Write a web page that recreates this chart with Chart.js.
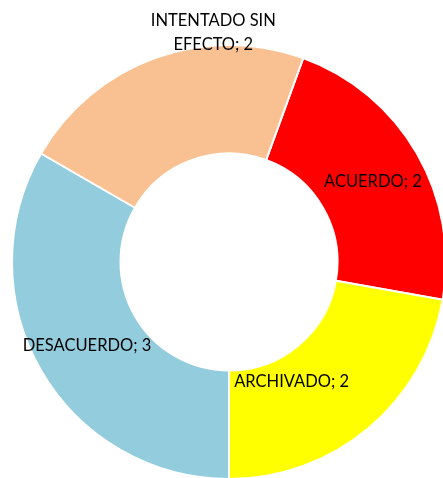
<!DOCTYPE html>
<html>
<head>
<meta charset="utf-8">
<script src="https://cdn.jsdelivr.net/npm/chart.js@4/dist/chart.umd.min.js"></script>
<style>
    html, body { margin: 0; padding: 0; background: #fff; overflow: hidden; }
    #wrap { position: absolute; left: 0; top: 0; width: 447px; height: 480px; }
</style>
</head>
<body>
<div id="wrap"><canvas id="chart" width="447" height="480"></canvas></div>
<script>
const categories = ['ACUERDO', 'ARCHIVADO', 'DESACUERDO', 'INTENTADO SIN EFECTO'];
const values = [2, 2, 3, 2];
const colors = ['#FF0000', '#FFFF00', '#93CDDD', '#F9C091'];

// label text lines and nudges away from the slice centre (Excel moved some)
const labelLines = [['ACUERDO; 2'], ['ARCHIVADO; 2'], ['DESACUERDO; 3'], ['INTENTADO SIN', 'EFECTO; 2']];
const labelShift = [[3, 1], [-42, -5], [-1, 2], [40, -76]];

const sliceLabels = {
    id: 'sliceLabels',
    afterDatasetsDraw(chart) {
        const ctx = chart.ctx;
        const arcs = chart.getDatasetMeta(0).data;
        ctx.save();
        ctx.font = '16.5px Lato';
        ctx.fillStyle = '#000';
        ctx.textAlign = 'center';
        ctx.textBaseline = 'middle';
        arcs.forEach((arc, i) => {
            const p = arc.tooltipPosition();
            const lines = labelLines[i];
            const lineH = 24;
            const x = p.x + labelShift[i][0];
            const y0 = p.y + labelShift[i][1] - (lines.length - 1) * lineH / 2;
            lines.forEach((t, k) => ctx.fillText(t, x, y0 + k * lineH));
        });
        ctx.restore();
    }
};

new Chart(document.getElementById('chart'), {
    type: 'doughnut',
    data: {
        labels: categories,
        datasets: [{
            data: values,
            backgroundColor: colors,
            borderColor: '#ffffff',
            borderWidth: 2
        }]
    },
    options: {
        responsive: false,
        animation: false,
        rotation: 20,
        cutout: '50%',
        layout: { padding: { left: 11, top: 44, right: 0, bottom: 0 } },
        plugins: {
            legend: { display: false },
            tooltip: { enabled: false }
        }
    },
    plugins: [sliceLabels]
});
</script>
</body>
</html>
